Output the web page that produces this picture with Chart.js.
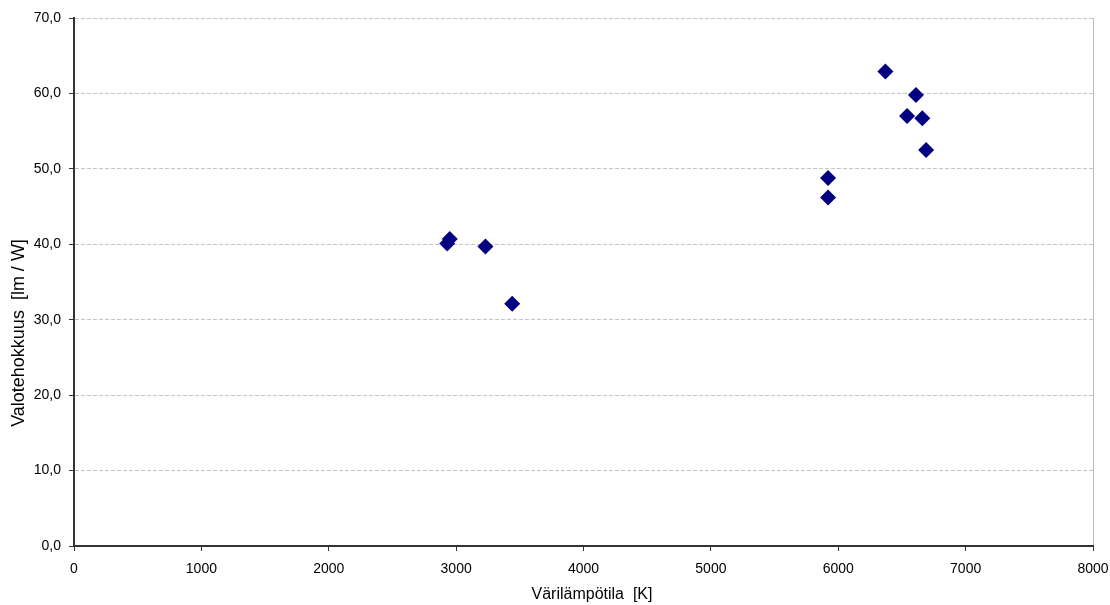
<!DOCTYPE html>
<html>
<head>
<meta charset="utf-8">
<script src="https://cdn.jsdelivr.net/npm/chart.js@4/dist/chart.umd.min.js"></script>
<style>
body { margin: 0; background: #fff; }
#wrap { width: 1110px; height: 605px; }
</style>
</head>
<body>
<div id="wrap"><canvas id="myChart"></canvas></div>
<script>
// colour temperature [K] and luminous efficacy [lm/W]
var temps = [2930, 2950, 3230, 3440, 5920, 5920, 6370, 6610, 6540, 6660, 6690];
var efficacy = [40.1, 40.7, 39.7, 32.1, 48.8, 46.2, 62.9, 59.8, 57.0, 56.7, 52.5];
var xTicks = [0, 1000, 2000, 3000, 4000, 5000, 6000, 7000, 8000];
var yTicks = [0, 10, 20, 30, 40, 50, 60, 70];
var xTitle = 'Värilämpötila  [K]';
var yTitle = 'Valotehokkuus  [lm / W]';

var points = [];
for (var i = 0; i < temps.length; i++) {
  points.push({ x: temps[i], y: efficacy[i] });
}

var FONT = "'Liberation Sans', Arial, sans-serif";
Chart.defaults.font.family = FONT;
Chart.defaults.color = '#000';

// axis titles drawn by hand so they sit where the original puts them
var axisTitles = {
  id: 'axisTitles',
  afterDraw: function(chart) {
    var c = chart.ctx;
    c.save();
    c.fillStyle = '#000';
    c.textAlign = 'center';
    c.textBaseline = 'middle';
    c.font = '16px ' + FONT;
    c.fillText(xTitle, 592, 595);
    c.font = '18px ' + FONT;
    c.translate(19, 333);
    c.rotate(-Math.PI / 2);
    c.fillText(yTitle, 0, 0);
    c.restore();
  }
};

var ctx = document.getElementById('myChart').getContext('2d');
var myChart = new Chart(ctx, {
  type: 'scatter',
  data: {
    datasets: [{
      label: 'Valotehokkuus',
      data: points,
      pointStyle: 'rectRot',
      pointRadius: 8,
      pointHoverRadius: 8,
      backgroundColor: '#000080',
      borderColor: '#000080',
      borderWidth: 0
    }]
  },
  plugins: [axisTitles],
  options: {
    responsive: true,
    maintainAspectRatio: false,
    animation: false,
    layout: { padding: { top: 18, right: 17, left: 0, bottom: 0 } },
    plugins: {
      legend: { display: false },
      tooltip: { enabled: false }
    },
    scales: {
      x: {
        type: 'linear',
        min: 0,
        max: 8000,
        afterBuildTicks: function(s) { s.ticks = xTicks.map(function(v) { return { value: v }; }); },
        afterFit: function(s) { s.height = 59; s.paddingLeft = 0; s.paddingRight = 0; },
        border: { color: '#333', width: 2 },
        grid: {
          color: function(c) { return c.tick && c.tick.value === 8000 ? '#bbb' : 'rgba(0,0,0,0)'; },
          tickColor: '#333',
          tickLength: 5,
          lineWidth: 1
        },
        ticks: {
          font: { size: 14 },
          padding: 10,
          maxRotation: 0,
          callback: function(v) { return String(v); }
        }
      },
      y: {
        min: 0,
        max: 70,
        afterBuildTicks: function(s) { s.ticks = yTicks.map(function(v) { return { value: v }; }); },
        afterFit: function(s) { s.width = 74; s.paddingTop = 0; s.paddingBottom = 0; },
        border: { color: '#333', width: 2, dash: [4, 2] },
        grid: {
          color: '#c4c4c4',
          tickColor: '#333',
          tickLength: 5,
          lineWidth: 1
        },
        ticks: {
          font: { size: 14 },
          padding: 8,
          callback: function(v) { return v.toFixed(1).replace('.', ','); }
        }
      }
    }
  }
});
</script>
</body>
</html>
